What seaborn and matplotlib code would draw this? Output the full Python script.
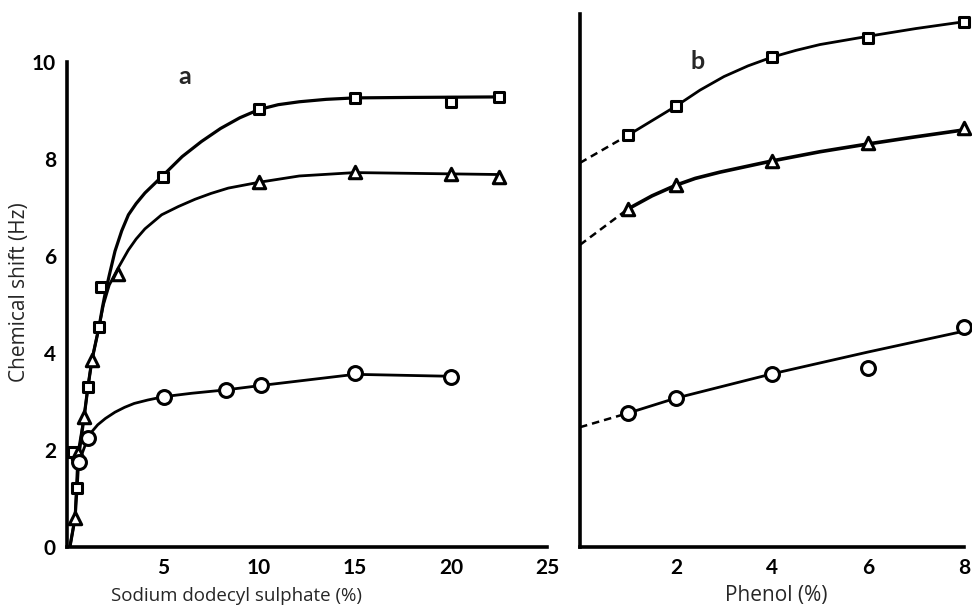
import matplotlib
matplotlib.use("Agg")
import matplotlib.pyplot as plt
import seaborn as sns
import pandas as pd

sns.set_theme(style="white")
plt.rcParams['font.family'] = ['Lato', 'DejaVu Sans']

# ---------------- Panel a: Sodium dodecyl sulphate ----------------
a_sq_x = [0.3, 0.52, 1.09, 1.67, 1.75, 5.0, 10.0, 15.0, 20.0, 22.5]
a_sq_y = [1.95, 1.22, 3.30, 4.54, 5.36, 7.62, 9.03, 9.26, 9.18, 9.28]
a_tri_x = [0.42, 0.57, 0.89, 1.30, 2.66, 10.0, 15.0, 20.0, 22.5]
a_tri_y = [0.60, 1.93, 2.68, 3.86, 5.63, 7.52, 7.73, 7.69, 7.63]
a_cir_x = [0.62, 1.09, 5.05, 8.28, 10.1, 15.0, 20.0]
a_cir_y = [1.75, 2.25, 3.10, 3.24, 3.33, 3.59, 3.50]

# hand-drawn fitted curves
a_sq_curve_x = [0.15, 0.42, 0.52, 0.62, 0.89, 1.09, 1.30, 1.67, 1.85, 2.0, 2.2, 2.5, 2.85, 3.2, 3.6, 4.06, 5.0, 6.0, 7.0, 8.0, 9.0, 10.0, 11.0, 12.1, 13.5, 15.0, 18.0, 22.5]
a_sq_curve_y = [0.0, 0.60, 1.22, 1.90, 2.68, 3.30, 3.86, 4.54, 4.95, 5.25, 5.60, 6.10, 6.52, 6.85, 7.08, 7.30, 7.66, 8.05, 8.36, 8.63, 8.85, 9.02, 9.12, 9.18, 9.23, 9.26, 9.27, 9.28]
a_tri_curve_x = [0.15, 0.42, 0.57, 0.89, 1.09, 1.30, 1.67, 1.9, 2.2, 2.66, 3.19, 3.6, 4.06, 4.93, 5.8, 6.67, 7.5, 8.4, 10.0, 12.1, 15.0, 22.5]
a_tri_curve_y = [0.0, 0.60, 1.93, 2.68, 3.30, 3.86, 4.54, 5.00, 5.40, 5.75, 6.12, 6.35, 6.56, 6.85, 7.02, 7.17, 7.29, 7.40, 7.52, 7.65, 7.72, 7.68]
a_cir_curve_x = [0.62, 1.09, 1.3, 1.6, 2.0, 2.5, 3.0, 3.5, 4.2, 5.05, 6.5, 8.28, 10.1, 15.0, 20.0]
a_cir_curve_y = [1.75, 2.25, 2.38, 2.52, 2.65, 2.78, 2.88, 2.96, 3.03, 3.10, 3.17, 3.24, 3.33, 3.56, 3.52]

a_xticks = [5, 10, 15, 20, 25]
a_yticks = [0, 2, 4, 6, 8, 10]

# ---------------- Panel b: Phenol ----------------
b_x = [1, 2, 4, 6, 8]
b_sq_y = [8.49, 9.10, 10.10, 10.49, 10.83]
b_tri_y = [6.97, 7.46, 7.96, 8.33, 8.64]
b_cir_y = [2.76, 3.07, 3.57, 3.69, 4.54]

b_sq_curve_x = [1, 2, 2.5, 3, 3.5, 4, 4.5, 5, 6, 7, 8]
b_sq_curve_y = [8.49, 9.09, 9.42, 9.70, 9.92, 10.10, 10.24, 10.36, 10.53, 10.69, 10.83]
b_tri_curve_x = [1, 1.5, 2, 2.4, 2.92, 4, 5, 6, 6.94, 8]
b_tri_curve_y = [6.97, 7.24, 7.46, 7.60, 7.73, 7.96, 8.15, 8.31, 8.45, 8.60]
b_cir_curve_x = [1, 2, 4, 6, 8]
b_cir_curve_y = [2.76, 3.07, 3.57, 4.02, 4.45]

b_dash_x = [0, 1]
b_sq_dash_y = [7.92, 8.49]
b_tri_dash_y = [6.23, 6.97]
b_cir_dash_y = [2.47, 2.76]

b_xticks = [2, 4, 6, 8]
b_yticks = [2, 4, 6, 8, 10]

W, H = 972, 611
fig = plt.figure(figsize=(W / 100, H / 100), dpi=100)
ax_a = fig.add_axes([67 / W, 1 - 547 / H, 480 / W, 485 / H])
ax_b = fig.add_axes([580 / W, 1 - 547 / H, 384 / W, 533.5 / H])

LW = 2.0
MEW = 2.2
LABEL_FONT = ['Open Sans', 'DejaVu Sans']


def curve(ax, xs, ys, ls="-", lw=LW):
    df = pd.DataFrame({"x": xs, "y": ys})
    sns.lineplot(data=df, x="x", y="y", ax=ax, sort=False, estimator=None,
                 color="black", linewidth=lw, linestyle=ls)


def marks(ax, xs, ys, marker, size):
    df = pd.DataFrame({"x": xs, "y": ys})
    sns.scatterplot(data=df, x="x", y="y", ax=ax, marker=marker, s=size,
                    facecolor="white", edgecolor="black", linewidth=MEW,
                    zorder=5, clip_on=False)


curve(ax_a, a_sq_curve_x, a_sq_curve_y, lw=2.3)
curve(ax_a, a_tri_curve_x, a_tri_curve_y)
curve(ax_a, a_cir_curve_x, a_cir_curve_y)
marks(ax_a, a_sq_x, a_sq_y, "s", 55)
marks(ax_a, a_tri_x, a_tri_y, "^", 80)
marks(ax_a, a_cir_x, a_cir_y, "o", 100)

curve(ax_b, b_sq_curve_x, b_sq_curve_y)
curve(ax_b, b_tri_curve_x, b_tri_curve_y, lw=2.6)
curve(ax_b, b_cir_curve_x, b_cir_curve_y)
for dy in (b_sq_dash_y, b_tri_dash_y, b_cir_dash_y):
    curve(ax_b, b_dash_x, dy, ls=(0, (3, 2)), lw=1.8)
marks(ax_b, b_x, b_sq_y, "s", 55)
marks(ax_b, b_x, b_tri_y, "^", 80)
marks(ax_b, b_x, b_cir_y, "o", 100)

for ax in (ax_a, ax_b):
    sns.despine(ax=ax)
    for s in ("left", "bottom"):
        ax.spines[s].set_linewidth(2.6)
        ax.spines[s].set_color("black")
        ax.spines[s].set_capstyle("projecting")
    ax.tick_params(direction="in", length=7, width=2.2, colors="black",
                   labelsize=15, pad=8)
    ax.set_facecolor("none")

ax_a.set_xlim(0, 25)
ax_a.set_ylim(0, 10)
ax_a.set_xticks(a_xticks)
ax_a.set_yticks(a_yticks)
ax_a.set_xticklabels([str(t) for t in a_xticks], fontweight="bold", fontsize=15)
ax_a.set_yticklabels([str(t) for t in a_yticks], fontweight="bold", fontsize=15)
ax_a.set_xlabel("Sodium dodecyl sulphate (%)", fontsize=13.5, family=LABEL_FONT)
ax_a.set_ylabel("Chemical shift (Hz)", fontsize=15, family=LABEL_FONT)
ax_a.xaxis.set_label_coords(0.354, -0.082)
ax_a.yaxis.set_label_coords(-0.077, 0.525)
ax_a.text(0.245, 0.97, "a", transform=ax_a.transAxes, fontsize=18,
          fontweight="bold", ha="center", va="center")

ax_b.set_xlim(0, 8)
ax_b.set_ylim(0, 11.0)
ax_b.set_xticks(b_xticks)
ax_b.set_yticks(b_yticks)
ax_b.set_xticklabels([str(t) for t in b_xticks], fontweight="bold", fontsize=15)
ax_b.set_yticklabels([])
ax_b.set_xlabel("Phenol (%)", fontsize=15, family=LABEL_FONT)
ax_b.xaxis.set_label_coords(0.51, -0.072)
ax_b.set_ylabel("")
ax_b.text(0.305, 0.91, "b", transform=ax_b.transAxes, fontsize=18,
          fontweight="bold", ha="center", va="center")

fig.savefig("out.png", dpi=100)
